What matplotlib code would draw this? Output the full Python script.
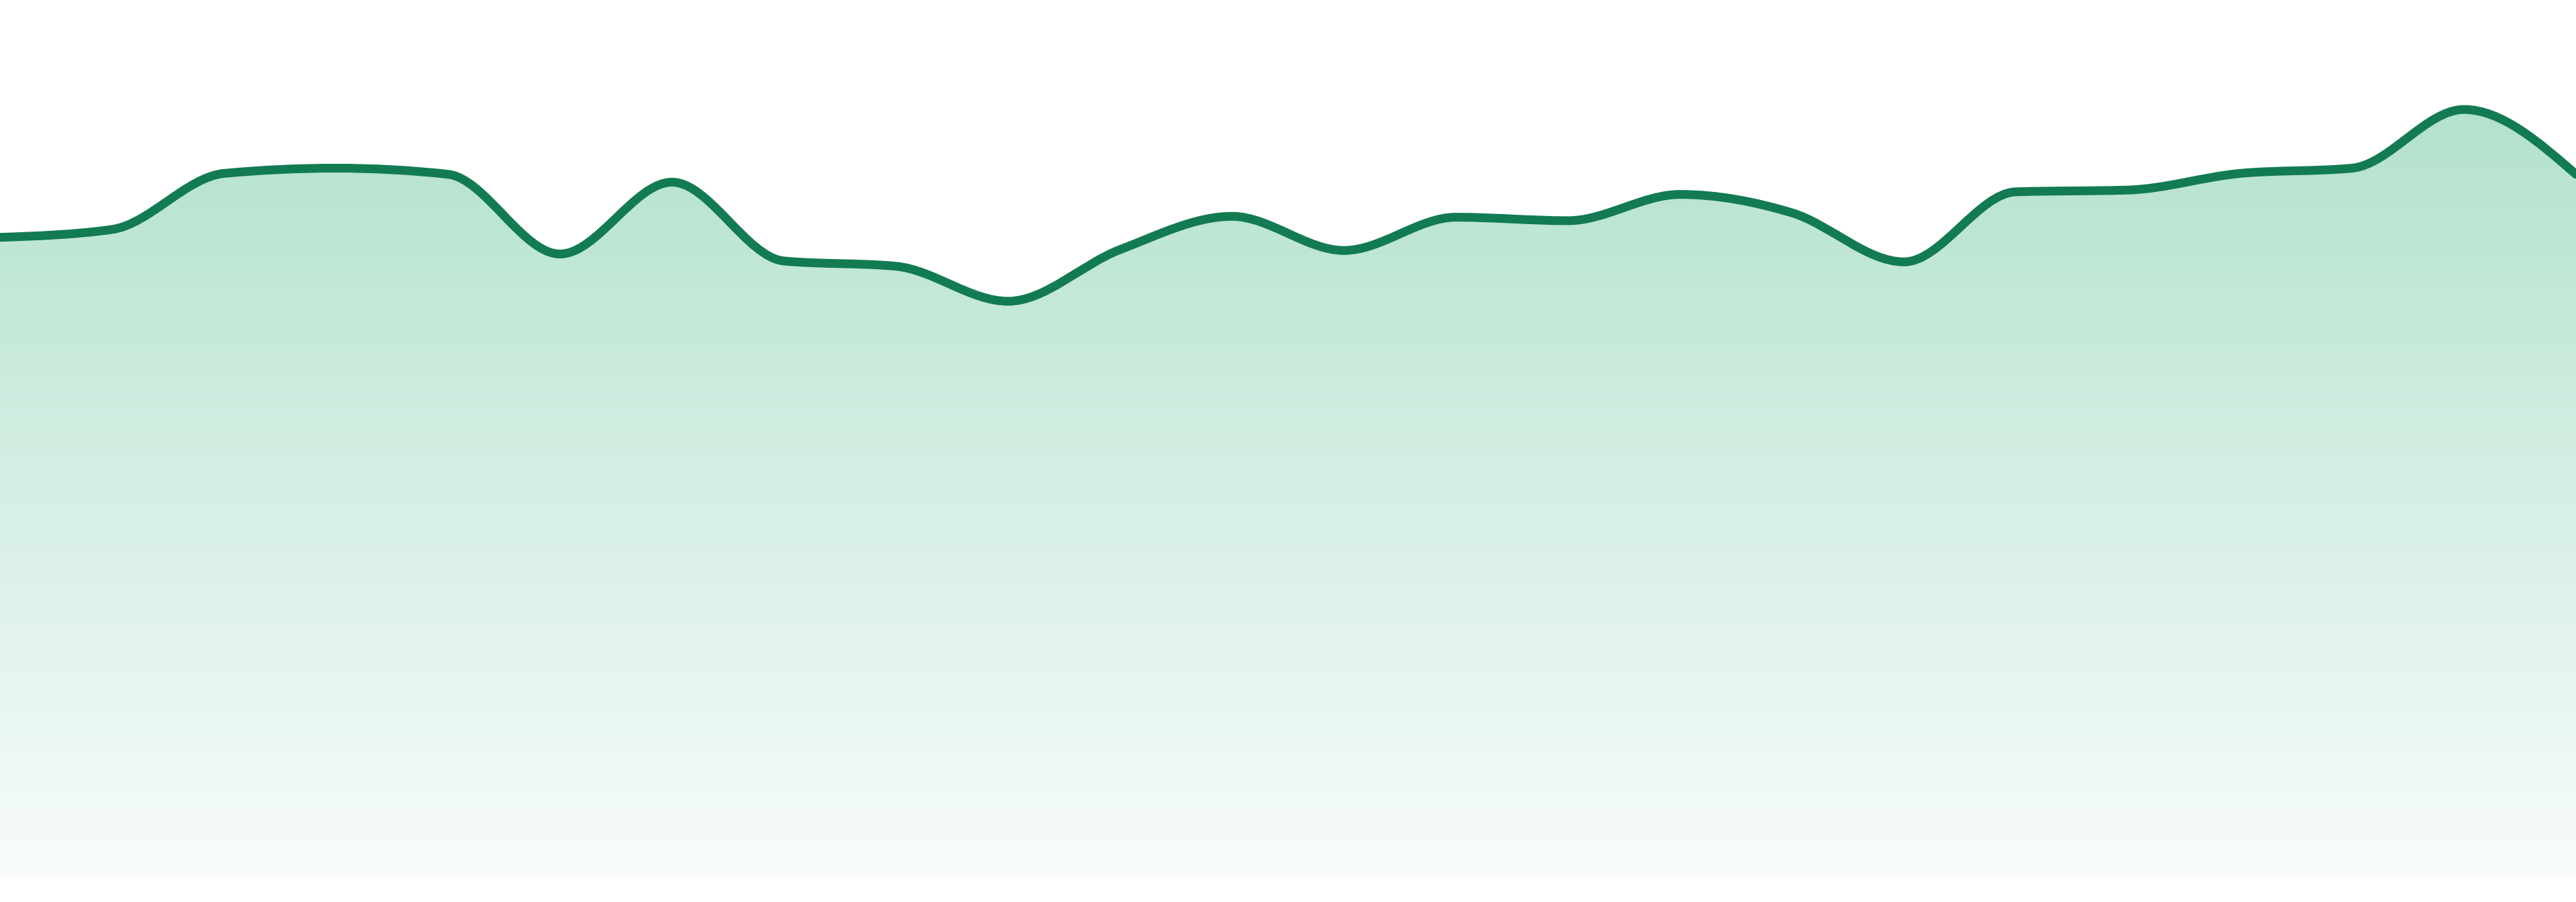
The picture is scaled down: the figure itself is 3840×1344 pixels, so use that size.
import numpy as np
import matplotlib
matplotlib.use("Agg")
import matplotlib.pyplot as plt
from matplotlib.path import Path
from matplotlib.patches import PathPatch

# ---- data ----
periods = list(range(24))
values = [72.9, 73.8, 80.2, 80.8, 80.1, 71.0, 79.2, 70.2, 69.6, 65.6, 71.5, 75.3,
          71.4, 75.2, 74.8, 77.8, 75.7, 70.1, 78.1, 78.3, 80.2, 80.8, 87.5, 80.1]

line_color = "#127B52"
fill_top = np.array([179, 226, 205]) / 255.0
fill_bottom = np.array([248, 252, 251]) / 255.0


def monotone_path(x, y):
    """Cubic Bezier path equivalent to d3.curveMonotoneX."""
    x = np.asarray(x, float)
    y = np.asarray(y, float)
    n = len(x)
    h = np.diff(x)
    s = np.diff(y) / h
    t = np.zeros(n)
    sign = lambda v: -1.0 if v < 0 else 1.0
    for i in range(1, n - 1):
        h0, h1 = h[i - 1], h[i]
        s0, s1 = s[i - 1], s[i]
        p = (s0 * h1 + s1 * h0) / (h0 + h1)
        t[i] = (sign(s0) + sign(s1)) * min(abs(s0), abs(s1), 0.5 * abs(p))
    t[0] = (3 * s[0] - t[1]) / 2
    t[-1] = (3 * s[-1] - t[-2]) / 2
    verts = [(x[0], y[0])]
    codes = [Path.MOVETO]
    for i in range(n - 1):
        dx = (x[i + 1] - x[i]) / 3
        verts += [(x[i] + dx, y[i] + dx * t[i]),
                  (x[i + 1] - dx, y[i + 1] - dx * t[i + 1]),
                  (x[i + 1], y[i + 1])]
        codes += [Path.CURVE4] * 3
    return verts, codes


fig = plt.figure(figsize=(38.4, 13.44), dpi=100)
ax = fig.add_axes([0, 0, 1, 1])
ax.set_xlim(periods[0], periods[-1])
ax.set_ylim(-2.99, 100)
ax.axis("off")

verts, codes = monotone_path(periods, values)

# area path
area_verts = verts + [(periods[-1], 0), (periods[0], 0), (periods[0], values[0])]
area_codes = codes + [Path.LINETO, Path.LINETO, Path.CLOSEPOLY]
area_patch = PathPatch(Path(area_verts, area_codes), facecolor="none",
                       edgecolor="none", transform=ax.transData)
ax.add_patch(area_patch)

# vertical gradient from top of data to baseline
ymax = max(values)
nrows = 512
frac = np.linspace(0, 1, nrows)[:, None]  # 0 at top, 1 at bottom
grad = fill_top[None, :] * (1 - frac) + fill_bottom[None, :] * frac
img = np.repeat(grad[:, None, :], 2, axis=1)
im = ax.imshow(img, extent=[periods[0], periods[-1], 0, ymax], aspect="auto",
               interpolation="bilinear", origin="upper", zorder=1)
im.set_clip_path(area_patch)

# line
line_patch = PathPatch(Path(verts, codes), facecolor="none", edgecolor=line_color,
                       linewidth=9.4, capstyle="round", joinstyle="round", zorder=3)
ax.add_patch(line_patch)

fig.savefig("out.png", dpi=100, facecolor="white")
